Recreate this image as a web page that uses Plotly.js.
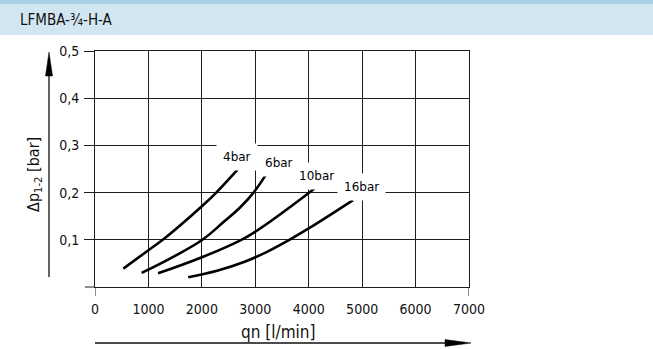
<!DOCTYPE html>
<html>
<head>
<meta charset="utf-8">
<script src="https://cdn.plot.ly/plotly-3.0.1.min.js"></script>
<style>
  html, body { margin: 0; padding: 0; background: #ffffff; }
  #wrap { position: relative; width: 653px; height: 349px; overflow: hidden; }
  #header { position: absolute; left: 0; top: 0; width: 653px; height: 31px;
    border-top: 4px solid #a8cfe4; background: #d1e6f1;
    font-family: "Liberation Sans Narrow", "DejaVu Sans Condensed", "Liberation Sans", sans-serif;
    font-size: 15px; color: #111; z-index: 2; }
  #header span { position: absolute; left: 20px; top: 7px; }
  #chart { position: absolute; left: 0; top: 0; width: 653px; height: 349px; }
</style>
</head>
<body>
<div id="wrap">
  <div id="header"><span>LFMBA-¾-H-A</span></div>
  <div id="chart"></div>
</div>
<script>
// Data
const seriesNames = ["4bar", "6bar", "10bar", "16bar"];
const flow4  = [530, 1000, 1280, 2000, 2260, 2710];
const dp4    = [0.039, 0.078, 0.101, 0.171, 0.199, 0.254];
const flow6  = [873, 1464, 2010, 2400, 2710, 2960, 3200];
const dp6    = [0.030, 0.064, 0.100, 0.137, 0.168, 0.199, 0.238];
const flow10 = [1180, 2000, 2740, 3000, 4000, 4110];
const dp10   = [0.029, 0.063, 0.100, 0.117, 0.199, 0.209];
const flow16 = [1745, 2300, 2800, 3200, 3645, 4000, 4830];
const dp16   = [0.0205, 0.035, 0.0535, 0.0735, 0.1005, 0.124, 0.184];
const xTickVals = [0, 1000, 2000, 3000, 4000, 5000, 6000, 7000];
const xTickText = ["0", "1000", "2000", "3000", "4000", "5000", "6000", "7000"];
const yTickVals = [0.1, 0.2, 0.3, 0.4, 0.5];
const yTickText = ["0,1", "0,2", "0,3", "0,4", "0,5"];
// label anchor positions (data units) for curve labels
const labelX = [2660, 3440, 4150, 4990];
const labelY = [0.276, 0.262, 0.236, 0.211];

const FONT = '"Liberation Sans Narrow", "DejaVu Sans Condensed", "Liberation Sans", sans-serif';
const GRID = '#1e1e1e';

const flows = [flow4, flow6, flow10, flow16];
const dps = [dp4, dp6, dp10, dp16];
const traces = flows.map((f, i) => ({
  x: f, y: dps[i], mode: 'lines', type: 'scatter', name: seriesNames[i],
  line: { color: '#000000', width: 2.6, shape: 'spline', smoothing: 1.2 },
  hoverinfo: 'skip'
}));

const annotations = seriesNames.map((n, i) => ({
  x: labelX[i], y: labelY[i], xref: 'x', yref: 'y', text: n, showarrow: false,
  font: { family: '"DejaVu Sans", sans-serif', size: 12, color: '#000' },
  bgcolor: '#ffffff', borderpad: 6
}));
annotations.push({
  xref: 'paper', yref: 'paper', x: 0, y: 0.475, xshift: -60, textangle: -90,
  text: 'Δp<sub>1-2</sub> [bar]', showarrow: false,
  font: { family: FONT, size: 16, color: '#111' }, xanchor: 'center', yanchor: 'middle'
});
annotations.push({
  xref: 'paper', yref: 'paper', x: 0.489, y: 0, yshift: -45,
  text: 'qn [l/min]', showarrow: false,
  font: { family: FONT, size: 17, color: '#111' }, xanchor: 'center', yanchor: 'middle'
});

// px -> paper helpers for decorative arrows (plot area: x 95..469, y 51..287)
const px = v => (v - 95) / 374;
const py = v => (287 - v) / 236;

const shapes = [
  // y arrow
  { type: 'line', xref: 'paper', yref: 'paper', x0: px(49), x1: px(49), y0: py(277), y1: py(72),
    line: { color: '#111', width: 1.3 } },
  { type: 'path', xref: 'paper', yref: 'paper',
    path: `M ${px(49)},${py(52)} L ${px(52.5)},${py(76)} L ${px(45.5)},${py(76)} Z`,
    fillcolor: '#000', line: { color: '#000', width: 0.5 } },
  // x arrow
  { type: 'line', xref: 'paper', yref: 'paper', x0: px(95), x1: px(450), y0: py(343), y1: py(343),
    line: { color: '#111', width: 1.3 } },
  { type: 'path', xref: 'paper', yref: 'paper',
    path: `M ${px(471)},${py(343)} L ${px(445)},${py(346.5)} L ${px(445)},${py(339.5)} Z`,
    fillcolor: '#000', line: { color: '#000', width: 0.5 } },
  // tick extensions at 0 and 7000, and zero line extension to the left
  { type: 'line', xref: 'x', yref: 'paper', x0: xTickVals[0], x1: xTickVals[0], y0: 0, y1: py(296),
    line: { color: GRID, width: 1 } },
  { type: 'line', xref: 'x', yref: 'paper', x0: xTickVals[7], x1: xTickVals[7], y0: 0, y1: py(296),
    line: { color: GRID, width: 1 } },
  { type: 'line', xref: 'paper', yref: 'paper', x0: px(85), x1: 0, y0: 0, y1: 0,
    line: { color: GRID, width: 1 } }
];

const layout = {
  width: 653, height: 349,
  margin: { l: 95, r: 184, t: 51, b: 62, pad: 0 },
  paper_bgcolor: '#ffffff', plot_bgcolor: '#ffffff',
  showlegend: false,
  xaxis: {
    range: [0, 7000], tickmode: 'array', tickvals: xTickVals, ticktext: xTickText,
    showgrid: true, gridcolor: GRID, gridwidth: 1, zeroline: false,
    showline: true, mirror: true, linecolor: GRID, linewidth: 1,
    ticks: '', ticklabelstandoff: 9,
    tickfont: { family: FONT, size: 14, color: '#111' }, fixedrange: true
  },
  yaxis: {
    range: [0, 0.5], tickmode: 'array', tickvals: yTickVals, ticktext: yTickText,
    showgrid: true, gridcolor: GRID, gridwidth: 1, zeroline: false,
    showline: true, mirror: true, linecolor: GRID, linewidth: 1,
    ticks: 'outside', ticklen: 10, tickcolor: GRID, tickwidth: 1,
    ticklabelstandoff: 2,
    tickfont: { family: FONT, size: 14, color: '#111' }, fixedrange: true
  },
  annotations: annotations,
  shapes: shapes
};

Plotly.newPlot('chart', traces, layout, { staticPlot: true, displayModeBar: false });
</script>
</body>
</html>
